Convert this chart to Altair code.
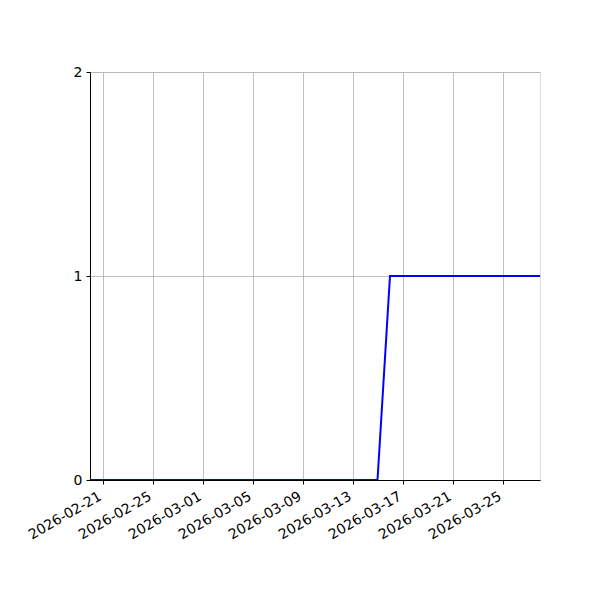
import altair as alt
import pandas as pd

dates = [
    "2026-02-20", "2026-02-21", "2026-02-22", "2026-02-23", "2026-02-24", "2026-02-25",
    "2026-02-26", "2026-02-27", "2026-02-28", "2026-03-01", "2026-03-02", "2026-03-03",
    "2026-03-04", "2026-03-05", "2026-03-06", "2026-03-07", "2026-03-08", "2026-03-09",
    "2026-03-10", "2026-03-11", "2026-03-12", "2026-03-13", "2026-03-14", "2026-03-15",
    "2026-03-16", "2026-03-17", "2026-03-18", "2026-03-19", "2026-03-20", "2026-03-21",
    "2026-03-22", "2026-03-23", "2026-03-24", "2026-03-25", "2026-03-26", "2026-03-27",
    "2026-03-28",
]
values = [
    0, 0, 0, 0, 0, 0,
    0, 0, 0, 0, 0, 0,
    0, 0, 0, 0, 0, 0,
    0, 0, 0, 0, 0, 0,
    1, 1, 1, 1, 1, 1,
    1, 1, 1, 1, 1, 1,
    1,
]
tick_dates = ["2026-02-21", "2026-02-25", "2026-03-01", "2026-03-05", "2026-03-09",
              "2026-03-13", "2026-03-17", "2026-03-21", "2026-03-25"]
y_ticks = [0, 1, 2]

df = pd.DataFrame({"date": [d + "T00:00:00" for d in dates], "value": values})


def dt(s):
    y, m, d = (int(p) for p in s.split("-"))
    return alt.DateTime(year=y, month=m, date=d)


chart = alt.Chart(df).mark_line(color="#0000ff", strokeWidth=2, clip=True).encode(
    x=alt.X(
        "date:T",
        title=None,
        scale=alt.Scale(domain=[dt(dates[0]), dt(dates[-1])], nice=False),
        axis=alt.Axis(
            values=[dt(t) for t in tick_dates],
            tickCount=20,
            format="%Y-%m-%d",
            labelAngle=-30,
            labelAlign="right",
            labelBaseline="top",
            labelFont="DejaVu Sans",
            labelFontSize=14,
            labelColor="black",
            labelPadding=5,
            labelOffset=-6,
            tickColor="black",
            tickSize=4,
            domainColor="black",
            grid=True,
            gridColor="#b0b0b0",
            gridWidth=0.8,
            labelOverlap=False,
            labelFlush=False,
        ),
    ),
    y=alt.Y(
        "value:Q",
        title=None,
        scale=alt.Scale(domain=[y_ticks[0], y_ticks[-1]], nice=False),
        axis=alt.Axis(
            tickCount=len(y_ticks) - 1,
            format="d",
            labelFont="DejaVu Sans",
            labelFontSize=14,
            labelColor="black",
            labelPadding=4,
            labelOverlap=False,
            labelFlush=False,
            tickColor="black",
            tickSize=4,
            domainColor="black",
            grid=True,
            gridColor="#b0b0b0",
            gridWidth=0.8,
        ),
    ),
).properties(
    width=450,
    height=408,
    autosize=alt.AutoSizeParams(type="none"),
    padding={"left": 82, "top": 64, "right": 52, "bottom": 112},
).configure_view(
    stroke="black",
    strokeWidth=1,
).configure(
    background="white",
)

chart.save("out.html", embed_options={"renderer": "svg", "actions": False})
